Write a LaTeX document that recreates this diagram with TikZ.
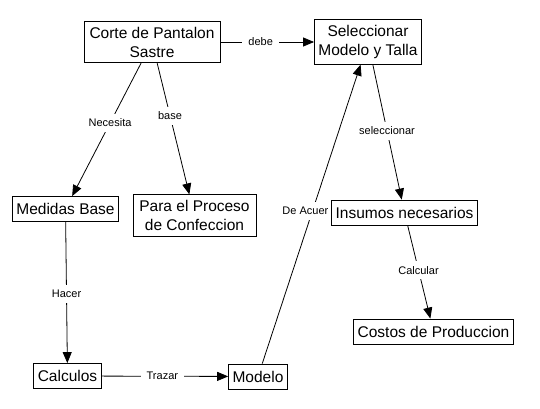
\documentclass[tikz,border=0pt]{standalone}
\usepackage{fontspec}
\setmainfont{Liberation Sans}
\usetikzlibrary{arrows.meta,backgrounds}

\begin{document}
\begin{tikzpicture}[
  x=1pt, y=-1pt,
  box/.style={draw, fill=white, line width=0.8pt, align=center, inner xsep=4pt, inner ysep=5.5pt, minimum height=25pt, font=\fontsize{15.5}{19}\selectfont},
  arrow/.style={-{Triangle[length=11pt,width=9pt]}, line width=0.8pt},
  lbl/.style={fill=white, inner xsep=6pt, inner ysep=5pt, font=\fontsize{11}{13}\selectfont},
]
  \useasboundingbox (0,0) rectangle (540,409);

  \node[box, minimum width=136pt] (corte) at (152,42) {Corte de Pantalon\\Sastre};
  \node[box] (selec) at (368,42) {Seleccionar\\Modelo y Talla};
  \node[box] (medidas) at (65.5,209) {Medidas Base};
  \node[box, minimum width=123pt] (proceso) at (194.5,215.5) {Para el Proceso\\de Confeccion};
  \node[box] (insumos) at (404.5,212.5) {Insumos necesarios};
  \node[box] (costos) at (433.5,331.5) {Costos de Produccion};
  \node[box] (calculos) at (67.5,376) {Calculos};
  \node[box] (modelo) at (258,376.5) {Modelo};

  \begin{scope}[on background layer]
    \draw[arrow] (corte) -- node[lbl, pos=0.43] {debe} (selec);
    \draw[arrow] (corte) -- node[lbl, pos=0.45] {Necesita} (medidas);
    \draw[arrow] (corte) -- node[lbl, pos=0.4] {base} (proceso);
    \draw[arrow] (selec) -- node[lbl, pos=0.49] {seleccionar} (insumos);
    \draw[arrow] (modelo) -- node[lbl, pos=0.51, xshift=-7pt] {De Acuer} (selec);
    \draw[arrow] (medidas) -- node[lbl, pos=0.51] {Hacer} (calculos);
    \draw[arrow] (insumos) -- node[lbl, pos=0.48] {Calcular} (costos);
    \draw[arrow] (calculos) -- node[lbl, pos=0.48] {Trazar} (modelo);
  \end{scope}
\end{tikzpicture}
\end{document}
